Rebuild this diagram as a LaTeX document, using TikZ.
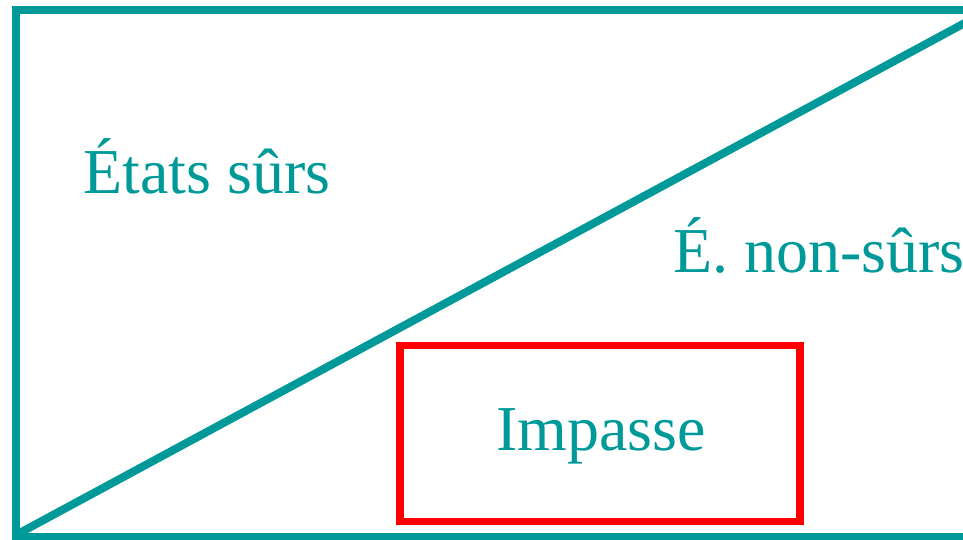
\documentclass[tikz,border=0pt]{standalone}
\usepackage{fontspec}
\setmainfont{Liberation Serif}
\definecolor{teal0}{RGB}{0,153,153}
\definecolor{red0}{RGB}{255,0,0}
\tikzset{
  tline/.style={draw=teal0, line width=8pt, line join=miter, line cap=butt},
  rbox/.style={draw=red0, line width=7.5pt, inner sep=0pt, outer sep=0pt, minimum width=400pt, minimum height=176pt},
  lbl/.style={text=teal0, font=\fontsize{64}{70}\selectfont, inner sep=0pt, anchor=base west}
}
\begin{document}
\begin{tikzpicture}[x=1pt,y=-1pt]
\useasboundingbox (0,0) rectangle (963,539);
\clip (0,0) rectangle (963,539);
\coordinate (tr) at (980,10);
\coordinate (tl) at (16,10);
\coordinate (bl) at (16,537);
\coordinate (br) at (980,537);
\coordinate (d0) at (14,536);
\coordinate (d1) at (1000,4);
\draw[tline] (tr) -- (tl) -- (bl) -- (br);
\draw[tline] (d0) -- (d1);
\node[rbox] (box) at (600,433.5) {};
\node[lbl] (safe) at (83,193) {États sûrs};
\node[lbl] (unsafe) at (673,272) {É. non-sûrs};
\node[lbl] (dead) at (496,450) {Impasse};
\end{tikzpicture}
\end{document}
